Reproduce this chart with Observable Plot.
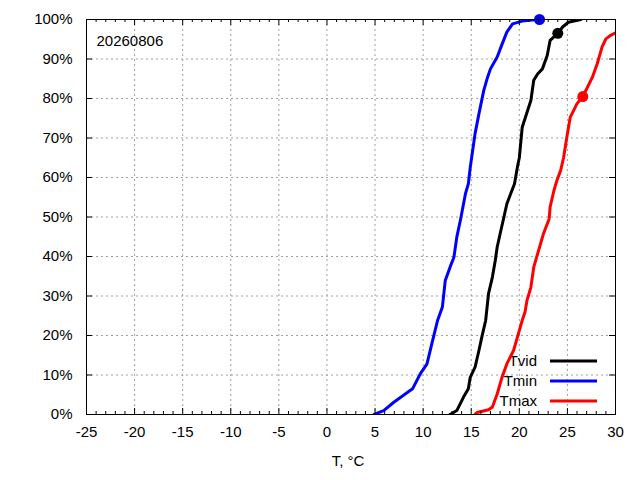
<!DOCTYPE html>
<html><head><meta charset="utf-8">
<script src="https://cdn.jsdelivr.net/npm/d3@7"></script>
<script src="https://cdn.jsdelivr.net/npm/@observablehq/plot@0.6"></script>
<style>body{margin:0;background:#fff} svg{display:block}</style>
</head><body><div id="chart"></div>
<script>
// ---- data ----
const dateLabel = "20260806";
const xLabel = "T, °C";
const xTicks = [-25, -20, -15, -10, -5, 0, 5, 10, 15, 20, 25, 30];
const yTicks = [0, 10, 20, 30, 40, 50, 60, 70, 80, 90, 100];
const seriesNames = ["Tvid", "Tmin", "Tmax"];
const seriesColors = ["#000000", "#0000ff", "#ff0000"];

const tvidT = [12.8, 13.5, 14.2, 14.7, 14.9, 15.4, 15.8, 16.1, 16.5, 16.8, 17.2, 17.5, 17.7, 18.0, 18.4, 18.7, 19.1, 19.5, 19.8, 20.0, 20.3, 21.2, 21.5, 21.9, 22.4, 22.9, 23.2, 24.0, 24.5, 25.1, 26.4];
const tvidP = [0, 1, 4.4, 6.5, 9.4, 12, 16.2, 19.6, 23.8, 30.6, 34.8, 39, 42.4, 45.7, 50, 53.3, 55.9, 58.4, 62.6, 65, 72.7, 79.5, 84.6, 86.2, 87.5, 90.9, 94.7, 96.5, 98.1, 99.3, 100];

const tminT = [4.9, 5.9, 6.95, 8.9, 9.7, 10.4, 10.9, 11.5, 12.0, 12.3, 12.8, 13.2, 13.5, 13.9, 14.4, 14.7, 14.9, 15.4, 15.8, 16.3, 16.7, 17.0, 17.7, 18.2, 18.7, 19.3, 20.3, 21.3, 22.1];
const tminP = [0, 1, 3.1, 6.5, 10.3, 12.8, 17.9, 23.8, 27.2, 33.9, 37.3, 39.8, 44.9, 49.5, 55.9, 58.4, 62.6, 71.1, 76.1, 82, 85.4, 87.5, 90.5, 93.7, 96.8, 98.9, 99.6, 99.9, 100];

const tmaxT = [15.4, 15.6, 16.8, 17.2, 17.7, 18.2, 18.7, 19.4, 19.9, 20.3, 20.6, 20.8, 21.2, 21.5, 22.0, 22.5, 23.1, 23.2, 23.6, 23.9, 24.3, 24.6, 25.0, 25.3, 26.0, 26.6, 27.1, 27.6, 28.1, 28.6, 29.0, 29.5, 30.0];
const tmaxP = [0, 0.5, 1.2, 1.9, 5.2, 9.4, 12.8, 16.2, 20.4, 23.8, 26, 28.9, 32.2, 37.3, 41.5, 45.7, 49.5, 52.5, 56.7, 59.2, 61.8, 65, 71.1, 75.3, 78.7, 80.5, 82.9, 85.4, 88.8, 93, 95.1, 96, 96.6];

// current-day markers (Tvid, Tmin, Tmax)
const dotT = [24.0, 22.1, 26.6];
const dotP = [96.5, 100, 80.5];

// ---- build tables ----
const seriesT = [tvidT, tminT, tmaxT];
const seriesP = [tvidP, tminP, tmaxP];
const curves = seriesNames.flatMap((name, i) => seriesT[i].map((t, j) => ({name, t, p: seriesP[i][j]})));
const dots = seriesNames.map((name, i) => ({name, t: dotT[i], p: dotP[i]}));
const xMinor = d3.range(xTicks[0], xTicks[xTicks.length - 1] + 1, 1).filter(v => !xTicks.includes(v));

const W = 640, H = 480;
const mL = 86, mR = 25, mT = 19, mB = 66;
const innerW = W - mL - mR, innerH = H - mT - mB;
const majorLen = 6, minorLen = 3;
const colorOf = Object.fromEntries(seriesNames.map((n, i) => [n, seriesColors[i]]));

const legendMark = (index, scales, values, dims) => {
  const g = d3.create("svg:g").attr("font-size", 15);
  const right = dims.width - dims.marginRight;
  const bottom = dims.height - dims.marginBottom;
  seriesNames.forEach((n, i) => {
    const y = bottom - 53 + i * 20;
    g.append("text").attr("x", right - 78).attr("y", y).attr("dy", "0.35em")
      .attr("text-anchor", "end").attr("fill", "#000").text(n);
    g.append("line").attr("x1", right - 65).attr("x2", right - 18)
      .attr("y1", y).attr("y2", y).attr("stroke", seriesColors[i]).attr("stroke-width", 3);
  });
  return g.node();
};

const chart = Plot.plot({
  width: W, height: H,
  marginLeft: mL, marginRight: mR, marginTop: mT, marginBottom: mB,
  style: {fontFamily: "'Liberation Sans', Arial, sans-serif", fontSize: "15px", background: "#fff", color: "#000"},
  x: {domain: [xTicks[0], xTicks[xTicks.length - 1]]},
  y: {domain: [yTicks[0], yTicks[yTicks.length - 1]]},
  marks: [
    // grid
    Plot.ruleX(xTicks.slice(1, -1), {stroke: "#a0a0a0", strokeDasharray: "2,3", strokeWidth: 1}),
    Plot.ruleY(yTicks.slice(1, -1), {stroke: "#a0a0a0", strokeDasharray: "2,3", strokeWidth: 1}),
    // legend text + samples
    legendMark,
    // curves
    Plot.line(curves, {x: "t", y: "p", z: "name", stroke: d => colorOf[d.name], strokeWidth: 3, strokeLinejoin: "round", clip: true}),
    Plot.dot(dots, {x: "t", y: "p", fill: d => colorOf[d.name], r: 5.5}),
    // frame
    Plot.frame({stroke: "#000", strokeWidth: 1}),
    // inward ticks
    Plot.tickX(xTicks, {x: d => d, insetTop: innerH - majorLen, stroke: "#000"}),
    Plot.tickX(xTicks, {x: d => d, insetBottom: innerH - majorLen, stroke: "#000"}),
    Plot.tickX(xMinor, {x: d => d, insetTop: innerH - minorLen, stroke: "#000"}),
    Plot.tickX(xMinor, {x: d => d, insetBottom: innerH - minorLen, stroke: "#000"}),
    Plot.tickY(yTicks, {y: d => d, insetRight: innerW - majorLen, stroke: "#000"}),
    Plot.tickY(yTicks, {y: d => d, insetLeft: innerW - majorLen, stroke: "#000"}),
    // axes labels
    Plot.axisX(xTicks, {tickSize: 0, tickPadding: 12, label: null, tickFormat: d => String(d), fontSize: 15}),
    Plot.axisY(yTicks, {tickSize: 0, tickPadding: 14, label: null, tickFormat: d => d + "%", fontSize: 15}),
    Plot.text([dateLabel], {frameAnchor: "top-left", dx: 10, dy: 16, textAnchor: "start", fontSize: 15}),
    Plot.text([xLabel], {frameAnchor: "bottom", dx: -3, dy: 51, fontSize: 15})
  ]
});
document.getElementById("chart").appendChild(chart);
</script>
</body></html>
